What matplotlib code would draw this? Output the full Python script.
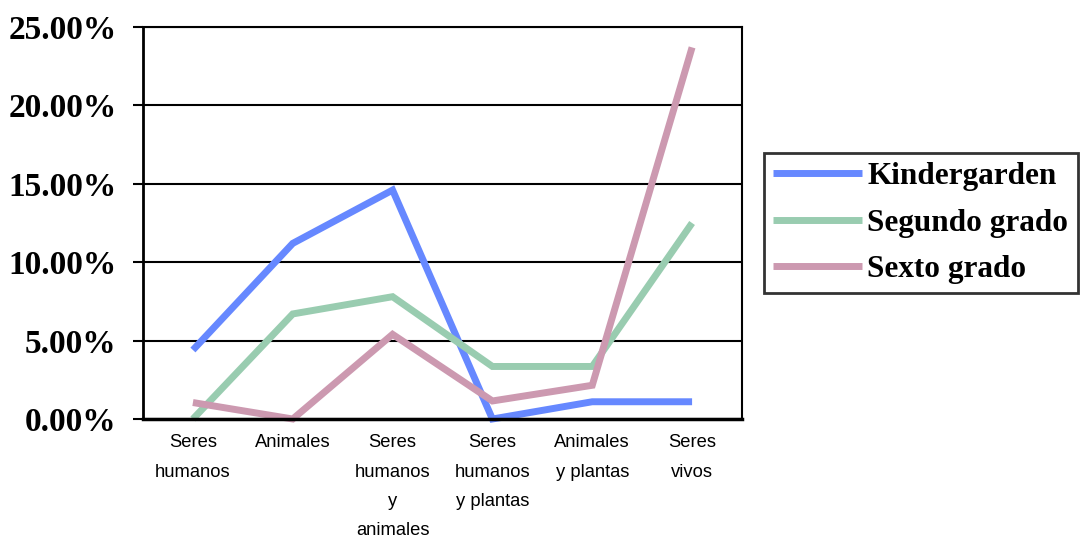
import matplotlib
matplotlib.use("Agg")
import matplotlib.pyplot as plt
import numpy as np

categories = ["Seres\nhumanos", "Animales", "Seres\nhumanos\ny\nanimales",
              "Seres\nhumanos\ny plantas", "Animales\ny plantas", "Seres\nvivos"]
kindergarden = [4.4, 11.2, 14.6, 0.0, 1.1, 1.1]
segundo_grado = [0.0, 6.7, 7.8, 3.35, 3.35, 12.5]
sexto_grado = [1.05, 0.0, 5.4, 1.15, 2.15, 23.7]
series_names = ["Kindergarden", "Segundo grado", "Sexto grado"]
yticks = [0, 5, 10, 15, 20, 25]

colors = ["#6688ff", "#99ccb0", "#cc99b0"]

fig = plt.figure(figsize=(10.83, 5.38), dpi=100)
ax = fig.add_axes([143/1083, 1-419/538, (742-143)/1083, (419-27)/538])

x = np.arange(len(categories))
for vals, name, c in zip([kindergarden, segundo_grado, sexto_grado], series_names, colors):
    ax.plot(x, vals, color=c, lw=5, solid_capstyle="butt", solid_joinstyle="miter",
            label=name, clip_on=False)

ax.set_xlim(-0.5, len(categories) - 0.5)
ax.set_ylim(0, 25)
ax.set_yticks(yticks)
ax.set_yticklabels([f"{v:.2f}%" for v in yticks], fontfamily="Liberation Serif",
                   fontweight="bold", fontsize=24)
ax.tick_params(axis="y", direction="out", length=7, width=1.5, pad=12)
ax.set_xticks(x)
ax.set_xticklabels(categories, fontfamily="Liberation Sans", fontsize=13.2,
                   linespacing=1.95, va="top")
ax.tick_params(axis="x", length=0, pad=11)
ax.grid(axis="y", color="black", lw=1.5)
ax.set_axisbelow(True)
for s in ax.spines.values():
    s.set_color("black")
    s.set_linewidth(1.5)
ax.spines["left"].set_linewidth(2)
ax.spines["bottom"].set_linewidth(2.5)

leg = ax.legend(loc="center left", bbox_to_anchor=(764/1083, 1-223/538),
                bbox_transform=fig.transFigure, frameon=True, fancybox=False,
                prop={"family": "Liberation Serif", "weight": "bold", "size": 22.5},
                handlelength=2.85, handletextpad=0.15, labelspacing=0.56,
                borderpad=0.3, borderaxespad=0)
leg.get_frame().set_edgecolor("black")
leg.get_frame().set_linewidth(2)

fig.savefig("out.png", dpi=100, facecolor="white")
